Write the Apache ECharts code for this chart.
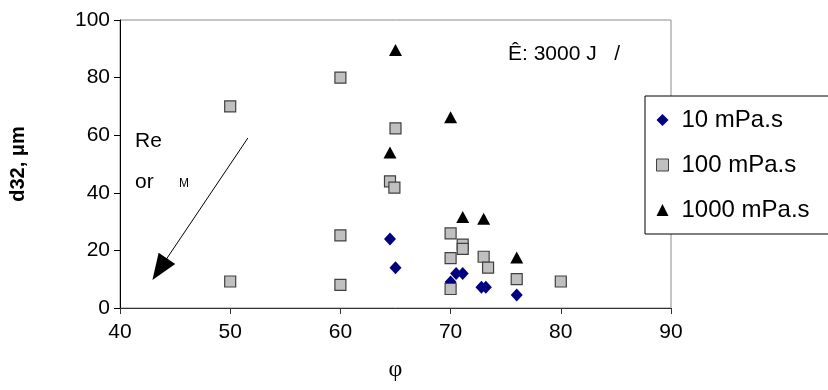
<!DOCTYPE html>
<html>
<head>
<meta charset="utf-8">
<script src="https://cdn.jsdelivr.net/npm/echarts@6/dist/echarts.min.js"></script>
<style>html,body{margin:0;padding:0;background:#fff}#c{width:828px;height:390px}</style>
</head>
<body>
<div id="c"></div>
<script>
// Data (phi, d32 in µm)
var seriesNames = ['10 mPa.s', '100 mPa.s', '1000 mPa.s'];
var visc10 = [[64.5, 24], [65, 14], [70, 9], [70.5, 12], [71.1, 12], [72.8, 7.2], [73.2, 7.2], [76, 4.5]];
var visc100 = [[50, 70], [50, 9.2], [60, 80], [60, 25.2], [60, 8], [65, 62.4], [64.5, 44], [64.9, 41.8],
               [70, 25.9], [71.1, 22], [71.1, 20.5], [70, 17.3], [73, 17.8], [73.4, 14], [76, 10], [70, 6.6], [80, 9.2]];
var visc1000 = [[65, 89.6], [64.5, 54], [70, 66.2], [71.1, 31.6], [73, 31], [76, 17.5]];
var xTicks = [40, 50, 60, 70, 80, 90];
var yTicks = [0, 20, 40, 60, 80, 100];
var arrowFrom = [51.6, 59];
var arrowTo = [43.6, 13.5];

var chart = echarts.init(document.getElementById('c'), null, {renderer: 'canvas'});
var font = 'Liberation Sans, Arial, sans-serif';
chart.setOption({
  animation: false,
  backgroundColor: '#fff',
  grid: {left: 120, right: 157, top: 20, bottom: 82, show: true, borderColor: '#8c8c8c', borderWidth: 1},
  xAxis: {
    type: 'value', min: xTicks[0], max: xTicks[xTicks.length - 1], interval: 10,
    axisLine: {show: true, lineStyle: {color: '#333', width: 1}},
    axisTick: {show: true, inside: false, length: 6, lineStyle: {color: '#333'}},
    axisLabel: {color: '#000', fontSize: 21, fontFamily: font, margin: 14},
    splitLine: {show: false},
    name: 'φ', nameLocation: 'middle', nameGap: 50,
    nameTextStyle: {color: '#000', fontSize: 24, fontFamily: 'Liberation Serif, Times New Roman, serif'}
  },
  yAxis: {
    type: 'value', min: yTicks[0], max: yTicks[yTicks.length - 1], interval: 20,
    axisLine: {show: true, lineStyle: {color: '#000', width: 1}},
    axisTick: {show: true, inside: false, length: 6, lineStyle: {color: '#000'}},
    axisLabel: {color: '#000', fontSize: 21, fontFamily: font, margin: 10},
    splitLine: {show: false},
    name: 'd32, μm', nameLocation: 'middle', nameGap: 92, nameRotate: 90,
    nameTextStyle: {color: '#000', fontSize: 20, fontWeight: 'bold', fontFamily: font}
  },
  legend: {
    orient: 'vertical', left: 645, top: 96,
    padding: [12, 30, 12, 11], itemGap: 21,
    itemWidth: 12, itemHeight: 12,
    backgroundColor: '#fff', borderColor: '#000', borderWidth: 1,
    textStyle: {color: '#000', fontSize: 24, fontFamily: font, padding: [0, 0, 0, 8]},
    data: [
      {name: seriesNames[0], icon: 'diamond', itemStyle: {color: '#000080'}},
      {name: seriesNames[1], icon: 'rect', itemStyle: {color: '#c0c0c0', borderColor: '#404040', borderWidth: 1}},
      {name: seriesNames[2], icon: 'triangle', itemStyle: {color: '#000'}}
    ]
  },
  series: [
    {
      name: seriesNames[0], type: 'scatter', data: visc10, symbol: 'diamond', symbolSize: [12, 13], z: 3,
      itemStyle: {color: '#000080', opacity: 1}
    },
    {
      name: seriesNames[1], type: 'scatter', data: visc100, symbol: 'rect', symbolSize: 11, z: 4,
      itemStyle: {color: '#c0c0c0', borderColor: '#404040', borderWidth: 1.2, opacity: 1}
    },
    {
      name: seriesNames[2], type: 'scatter', data: visc1000, symbol: 'triangle', symbolSize: [13, 12], z: 2,
      itemStyle: {color: '#000', opacity: 1},
      markLine: {
        silent: true, animation: false,
        symbol: ['none', 'triangle'], symbolSize: [20, 26],
        lineStyle: {color: '#000', width: 1, type: 'solid'},
        label: {show: false},
        data: [[{coord: arrowFrom}, {coord: arrowTo}]]
      }
    }
  ],
  graphic: [
    {type: 'text', left: 135, top: 131, style: {text: 'Re', fontSize: 21, fontFamily: font, fill: '#000'}},
    {type: 'text', left: 135, top: 172, style: {text: 'or', fontSize: 21, fontFamily: font, fill: '#000'}},
    {type: 'text', left: 179, top: 178, style: {text: 'M', fontSize: 12, fontFamily: font, fill: '#000'}},
    {type: 'text', left: 508, top: 44, style: {text: 'Ê: 3000 J   /', fontSize: 21, fontFamily: font, fill: '#000'}}
  ]
});
</script>
</body>
</html>
